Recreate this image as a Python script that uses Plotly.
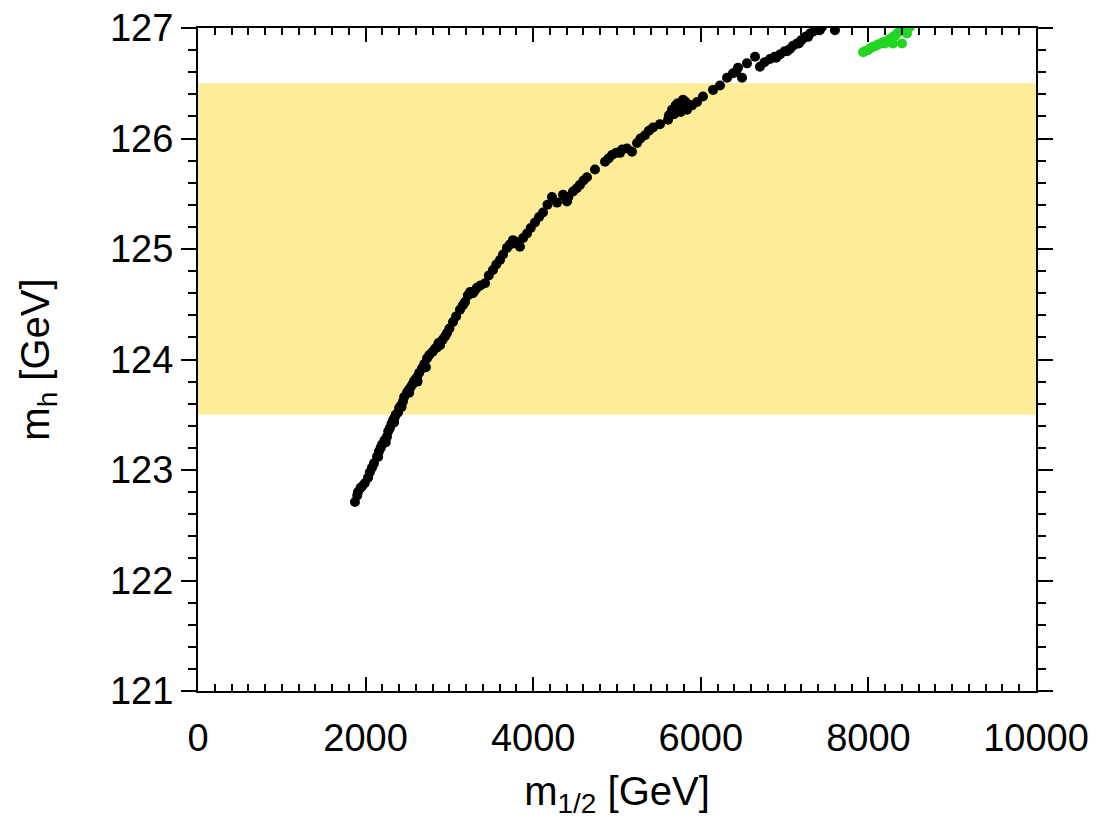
import plotly.graph_objects as go

# black points: m_1/2 [GeV], m_h [GeV]
black_x = [1873, 1900, 1909, 1940, 1957, 1990, 2029, 2050, 2076, 2100, 2136, 2160, 2180, 2196,
           2225, 2255, 2270, 2290, 2310, 2327, 2345, 2360, 2387, 2400, 2420, 2446, 2460, 2494,
           2510, 2530, 2554, 2575, 2595, 2613, 2640, 2673, 2700, 2733, 2760, 2800, 2830, 2852,
           2870, 2888, 2920, 2950, 2971, 3000, 3043, 3080, 3126, 3160, 3186, 3220, 3246, 3280,
           3329, 3370, 3425, 3470, 3520, 3560, 3604, 3640, 3687, 3720, 3759, 3800, 3842, 3880,
           3926, 3970, 4021, 4070, 4117, 4170, 4224, 4284, 4356, 4403, 4420, 4475, 4520, 4558,
           4600, 4642, 4737, 4857, 4900, 4940, 4990, 5036, 5060, 5119, 5179, 5239, 5280, 5334,
           5380, 5430, 5513, 5609, 5620, 5656, 5680, 5700, 5728, 5750, 5788, 5800, 5835, 5860,
           5895, 5955, 6026, 6146, 6229, 6313, 6384, 6444, 6492, 6551, 6647, 6706, 6760, 6826,
           6880, 6945, 7000, 7064, 7100, 7148, 7200, 7250, 7303, 7350, 7400, 7446, 7601,
           2150, 2240, 2340, 2430, 2520, 2620, 2720, 3300, 3760, 4380, 5700, 5760, 5820, 6420,
           6900, 7030, 7170, 7280, 7420]
black_y = [122.71, 122.77, 122.80, 122.84, 122.85, 122.88, 122.93, 122.98, 123.02, 123.06, 123.12,
           123.17, 123.20, 123.23, 123.27, 123.30, 123.35, 123.38, 123.42, 123.45, 123.47, 123.50,
           123.52, 123.56, 123.58, 123.62, 123.66, 123.70, 123.72, 123.74, 123.77, 123.80, 123.82,
           123.84, 123.88, 123.92, 123.96, 124.01, 124.04, 124.07, 124.10, 124.11, 124.15, 124.13,
           124.18, 124.21, 124.24, 124.28, 124.34, 124.39, 124.45, 124.49, 124.52, 124.58, 124.61,
           124.60, 124.65, 124.67, 124.69, 124.76, 124.81, 124.86, 124.90, 124.95, 125.01, 125.04,
           125.08, 125.06, 125.02, 125.10, 125.14, 125.19, 125.24, 125.29, 125.33, 125.40, 125.47,
           125.42, 125.49, 125.43, 125.47, 125.52, 125.55, 125.58, 125.62, 125.65, 125.72, 125.79,
           125.82, 125.85, 125.87, 125.87, 125.90, 125.91, 125.88, 125.96, 126.00, 126.03, 126.07,
           126.10, 126.13, 126.17, 126.21, 126.26, 126.22, 126.30, 126.32, 126.28, 126.35, 126.30,
           126.26, 126.30, 126.30, 126.33, 126.38, 126.44, 126.48, 126.55, 126.59, 126.64, 126.55,
           126.68, 126.74, 126.65, 126.69, 126.72, 126.74, 126.76, 126.79, 126.81, 126.84, 126.86,
           126.89, 126.92, 126.95, 126.97, 126.99, 127.01, 126.98,
           123.12, 123.25, 123.43, 123.57, 123.70, 123.80, 123.93, 124.62, 125.05, 125.47, 126.26,
           126.24, 126.33, 126.60,
           126.73, 126.79, 126.86, 126.92, 126.98]

# green points
green_x = [7936, 7960, 7995, 8030, 8055, 8090, 8115, 8150, 8174, 8198, 8234, 8260, 8294, 8294,
           8320, 8341, 8377, 8401, 8437, 8461, 8496]
green_y = [126.78, 126.79, 126.80, 126.82, 126.83, 126.84, 126.85, 126.86, 126.87, 126.86, 126.89,
           126.90, 126.92, 126.86, 126.93, 126.95, 127.00, 126.86, 126.99, 126.95, 127.01]

band_low, band_high = 123.5, 126.5
x_range = [0, 10000]
y_range = [121, 127]
x_ticks = [0, 2000, 4000, 6000, 8000, 10000]
y_ticks = [121, 122, 123, 124, 125, 126, 127]

FONT = "Liberation Sans, Arial, Helvetica, sans-serif"

fig = go.Figure()
fig.add_shape(type="rect", xref="paper", x0=0, x1=1, yref="y", y0=band_low, y1=band_high,
              fillcolor="rgb(253,237,153)", line_width=0, layer="below")
fig.add_trace(go.Scatter(x=black_x, y=black_y, mode="markers",
                         marker=dict(color="black", size=10, line_width=0), showlegend=False))
fig.add_trace(go.Scatter(x=green_x, y=green_y, mode="markers",
                         marker=dict(color="rgb(34,214,34)", size=10, line_width=0), showlegend=False))

fig.update_layout(
    width=1107, height=819,
    margin=dict(l=198, r=71, t=28, b=128),
    paper_bgcolor="white", plot_bgcolor="white",
    font=dict(family=FONT, size=38, color="black"),
)
fig.update_xaxes(
    range=x_range, tickvals=x_ticks, ticktext=[str(v) for v in x_ticks],
    showgrid=False, zeroline=False, showline=True, linecolor="black", linewidth=2,
    mirror="allticks", ticks="inside", ticklen=14, tickwidth=1.5, tickcolor="black",
    minor=dict(dtick=200, ticks="inside", ticklen=7, tickwidth=1.5, tickcolor="black", showgrid=False),
    tickfont=dict(size=38), ticklabelstandoff=12, automargin=False,
    title=dict(text="m<sub>1/2</sub> [GeV]", font=dict(size=40), standoff=22),
)
fig.update_yaxes(
    range=y_range, tickvals=y_ticks, ticktext=[str(v) for v in y_ticks],
    showgrid=False, zeroline=False, showline=True, linecolor="black", linewidth=2,
    mirror="allticks", ticks="outside", ticklen=15, tickwidth=1.5, tickcolor="black",
    minor=dict(dtick=0.2, ticks="outside", ticklen=8, tickwidth=1.5, tickcolor="black", showgrid=False),
    tickfont=dict(size=38), automargin=False,
    title=dict(text="m<sub>h</sub> [GeV]", font=dict(size=40), standoff=48),
)

fig.write_html("out.html")
